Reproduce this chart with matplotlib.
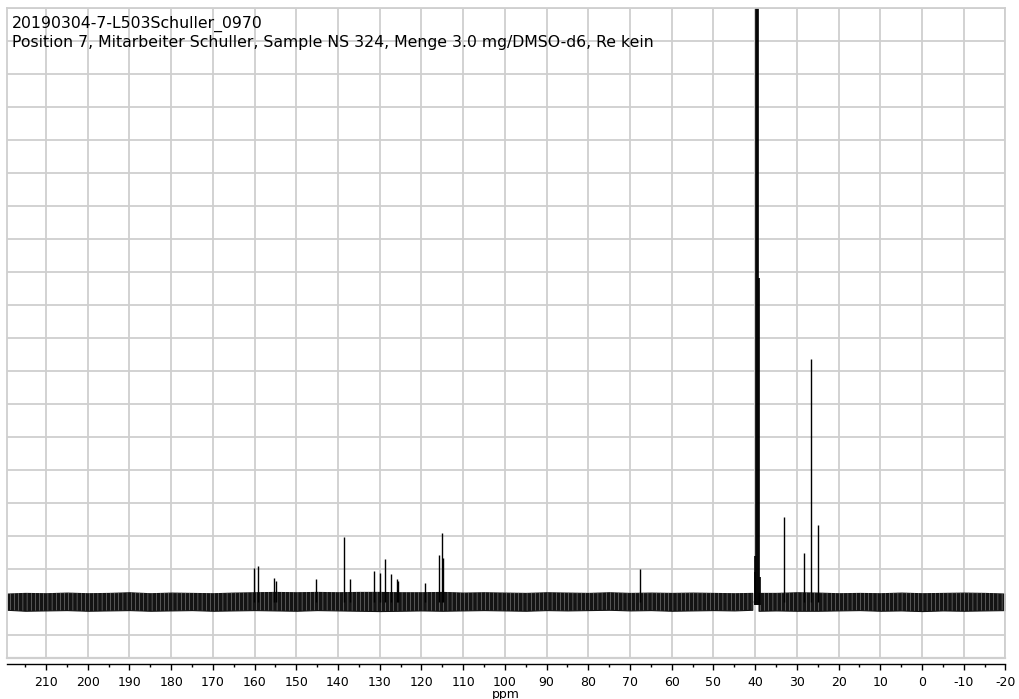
import numpy as np
import matplotlib
matplotlib.use("Agg")
import matplotlib.pyplot as plt

# title lines
title1 = "20190304-7-L503Schuller_0970"
title2 = "Position 7, Mitarbeiter Schuller, Sample NS 324, Menge 3.0 mg/DMSO-d6, Re kein"

# peak positions (ppm) and heights (grid units above baseline)
peak_ppm = [160.05, 159.1, 155.4, 154.9, 145.3, 138.6, 137.1, 131.3, 130.0,
            128.7, 127.3, 125.9, 125.6, 119.2, 115.8, 115.0, 114.8, 67.6,
            33.1, 28.3, 26.55, 24.9]
peak_h = [1.01, 1.08, 0.71, 0.63, 0.67, 1.96, 0.68, 0.92, 0.87,
          1.28, 0.82, 0.67, 0.62, 0.57, 1.41, 2.07, 1.33, 0.98,
          2.57, 1.48, 7.34, 2.31]

# DMSO-d6 solvent multiplet
dmso_ppm = [40.15, 39.94, 39.73, 39.52, 39.31, 39.10, 38.89]
dmso_h = [0.89, 1.38, 25.0, 30.0, 25.0, 9.8, 0.74]

# baseline noise envelope, read every 5 ppm (left part / right part of the solvent gap)
noise_ppm_l = [219.4, 215, 210, 205, 200, 195, 190, 185, 180, 175, 170, 165, 160,
               155, 150, 145, 140, 135, 130, 125, 120, 115, 110, 105, 100, 95, 90,
               85, 80, 75, 70, 65, 60, 55, 50, 45, 40.7]
noise_hi_l = [0.24, 0.26, 0.25, 0.27, 0.25, 0.26, 0.28, 0.25, 0.27, 0.26, 0.25, 0.27, 0.28,
              0.29, 0.28, 0.29, 0.28, 0.29, 0.29, 0.28, 0.28, 0.29, 0.27, 0.28, 0.27, 0.26, 0.28,
              0.27, 0.26, 0.28, 0.26, 0.27, 0.26, 0.27, 0.26, 0.25, 0.26]
noise_lo_l = [-0.25, -0.28, -0.27, -0.26, -0.28, -0.27, -0.26, -0.28, -0.27, -0.26, -0.28, -0.27, -0.26,
              -0.27, -0.28, -0.26, -0.27, -0.28, -0.29, -0.28, -0.27, -0.28, -0.27, -0.26, -0.27, -0.28, -0.26,
              -0.27, -0.26, -0.25, -0.27, -0.26, -0.28, -0.27, -0.26, -0.27, -0.25]
noise_ppm_r = [39.2, 35, 30, 25, 20, 15, 10, 5, 0, -5, -10, -15, -20]
noise_hi_r = [0.26, 0.26, 0.28, 0.27, 0.25, 0.26, 0.25, 0.27, 0.25, 0.26, 0.27, 0.26, 0.24]
noise_lo_r = [-0.28, -0.27, -0.28, -0.28, -0.27, -0.26, -0.28, -0.27, -0.29, -0.27, -0.28, -0.27, -0.26]

xticks = list(range(210, -30, -10))
W, H = 1020, 699

plt.rcParams["hatch.linewidth"] = 0.35

fig = plt.figure(figsize=(W / 100, H / 100), dpi=100)
ax = fig.add_axes([7 / W, 1 - 658 / H, (1005.5 - 7) / W, 650 / H])

ymin, ymax = -1.712, 17.985
ax.set_xlim(219.35, -20)
ax.set_ylim(ymin, ymax)

grid_c = "#cfcfcf"
ax.set_yticks(np.arange(-1.015, 18.5, 1.0))
ax.set_xticks(xticks)
ax.set_xticklabels([str(t) for t in xticks])
ax.set_xticks(np.arange(215, -20, -10), minor=True)
ax.grid(True, which="major", color=grid_c, lw=1.3)
ax.set_axisbelow(True)
ax.tick_params(axis="y", left=False, labelleft=False)
ax.tick_params(axis="x", which="major", direction="out", length=4, width=1,
               pad=5, labelsize=9, color="black")
ax.tick_params(axis="x", which="minor", direction="out", length=2.2, width=1,
               color="black")

for s in ["left", "right", "top"]:
    ax.spines[s].set_color(grid_c)
    ax.spines[s].set_linewidth(1.3)
ax.spines["bottom"].set_position(("outward", 4))
ax.spines["bottom"].set_color("black")
ax.spines["bottom"].set_linewidth(1.0)
ax.axhline(ymin, color=grid_c, lw=1.6, clip_on=False)

ax.set_xlabel("ppm", fontsize=9, labelpad=-1)

# baseline noise band, with light streaks like the dense noise trace
for xs, lo, hi in [(noise_ppm_l, noise_lo_l, noise_hi_l),
                   (noise_ppm_r, noise_lo_r, noise_hi_r)]:
    ax.fill_between(xs, lo, hi, facecolor="#141414", lw=0.8, edgecolor="#141414")
    ax.fill_between(xs, lo, hi, facecolor="none", edgecolor="#9a9a9a",
                    hatch="||||", lw=0)

ax.vlines(peak_ppm, 0, peak_h, color="black", lw=1.0)
ax.vlines(dmso_ppm, -0.1, dmso_h, color="black", lw=1.2)

fig.text(12 / W, 1 - 28 / H, title1, fontsize=11.3, va="baseline", ha="left")
fig.text(12 / W, 1 - 47 / H, title2, fontsize=11.3, va="baseline", ha="left")

fig.savefig("out.png", dpi=100)
